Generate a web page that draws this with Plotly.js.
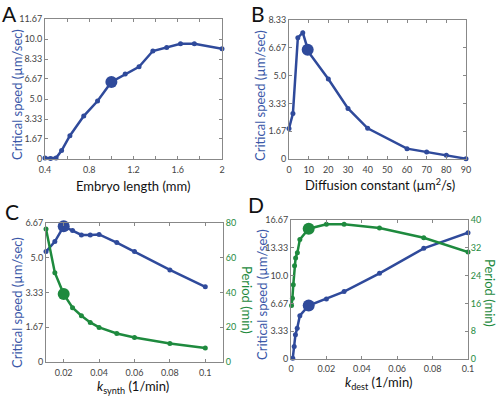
<!DOCTYPE html>
<html><head><meta charset="utf-8">
<script src="https://cdn.plot.ly/plotly-3.0.1.min.js"></script>
<style>html,body{margin:0;padding:0;background:#fff}#chart{width:500px;height:397px}</style>
</head><body><div id="chart"></div><script>
// Panel A
const aLength = [0.4, 0.45, 0.5, 0.55, 0.625, 0.75, 0.875, 1.0, 1.125, 1.25, 1.375, 1.5, 1.625, 1.75, 2.0];
const aSpeed  = [0.08, 0.05, 0.08, 0.7, 1.94, 3.58, 4.83, 6.42, 7.08, 7.69, 9.0, 9.3, 9.61, 9.61, 9.19];
const aHiX = [1.0], aHiY = [6.42];
// Panel B
const bDiff  = [0, 2, 4.5, 7, 10, 20, 30, 40, 60, 70, 80, 90];
const bSpeed = [1.83, 2.73, 7.27, 7.57, 6.4, 4.79, 3.03, 1.84, 0.62, 0.42, 0.22, 0.02];
const bHiX = [9.5], bHiY = [6.55];
// Panel C
const cK      = [0.01, 0.015, 0.02, 0.025, 0.03, 0.035, 0.04, 0.05, 0.06, 0.08, 0.1];
const cSpeed  = [5.30, 5.78, 6.51, 6.31, 6.10, 6.10, 6.12, 5.73, 5.30, 4.42, 3.61];
const cPeriod = [76.5, 51.4, 39.1, 31.2, 26.6, 22.8, 19.9, 16.4, 14.1, 10.6, 8.1];
const cHiX = [0.02], cHiSpeed = [6.51], cHiPeriod = [39.1];
// Panel D
const dKSpeed  = [0.001, 0.0018, 0.0025, 0.0035, 0.005, 0.01, 0.02, 0.03, 0.05, 0.075, 0.1];
const dSpeed   = [0.1, 1.5, 2.9, 3.7, 5.2, 6.41, 7.21, 8.09, 10.28, 13.27, 15.15];
const dKPeriod = [0.0003, 0.0008, 0.0013, 0.002, 0.0026, 0.0036, 0.005, 0.01, 0.02, 0.03, 0.05, 0.075, 0.1];
const dPeriod  = [15.4, 17.5, 21.4, 26.8, 29.1, 30.6, 34.4, 37.5, 38.8, 38.8, 37.7, 34.9, 30.8];
const dHiX = [0.01], dHiSpeed = [6.41], dHiPeriod = [37.5];

const BLUE = '#2f4a9b', GREEN = '#1e8a3e', TBLUE = '#3b58a8', FONT = 'Lato, "Open Sans", sans-serif';
const line = (x, y, c, xa, ya) => ({x, y, xaxis: xa, yaxis: ya, type: 'scatter', mode: 'lines+markers',
  line: {color: c, width: 2.5}, marker: {color: c, size: 5}, cliponaxis: false, hoverinfo: 'none'});
const big = (x, y, c, xa, ya) => ({x, y, xaxis: xa, yaxis: ya, type: 'scatter', mode: 'markers',
  marker: {color: c, size: 12}, cliponaxis: false, hoverinfo: 'none'});

const data = [
  line(aLength, aSpeed, BLUE, 'x', 'y'), big(aHiX, aHiY, BLUE, 'x', 'y'),
  line(bDiff, bSpeed, BLUE, 'x2', 'y2'), big(bHiX, bHiY, BLUE, 'x2', 'y2'),
  line(cK, cSpeed, BLUE, 'x3', 'y3'), big(cHiX, cHiSpeed, BLUE, 'x3', 'y3'),
  line(cK, cPeriod, GREEN, 'x3', 'y5'), big(cHiX, cHiPeriod, GREEN, 'x3', 'y5'),
  line(dKPeriod, dPeriod, GREEN, 'x4', 'y6'), big(dHiX, dHiPeriod, GREEN, 'x4', 'y6'),
  line(dKSpeed, dSpeed, BLUE, 'x4', 'y4'), big(dHiX, dHiSpeed, BLUE, 'x4', 'y4')
];

const axBase = {showline: true, linecolor: '#888', linewidth: 1, ticks: 'inside', ticklen: 3, tickcolor: '#888',
  showgrid: false, zeroline: false, tickfont: {family: FONT, size: 9, color: '#444'}, fixedrange: true};
const ax = (o) => Object.assign({}, axBase, o);

const W = 500, H = 397;
const dx = (l, r) => [l / W, r / W];
const dy = (t, b) => [1 - b / H, 1 - t / H];

const aTicks = [0.4, 0.8, 1.2, 1.6, 2.0];
const aTickText = ['0.4', '0.8', '1.2', '1.6', '2'];
const speedTicksA = [0, 1.67, 3.33, 5.0, 6.67, 8.33, 10.0, 11.67];
const speedTextA = ['0', '1.67', '3.33', '5.0', '6.67', '8.33', '10.0', '11.67'];
const speedTicksB = [0, 1.67, 3.33, 5.0, 6.67, 8.33];
const speedTextB = ['0', '1.67', '3.33', '5.0', '6.67', '8.33'];
const bTicks = [0, 10, 20, 30, 40, 50, 60, 70, 80, 90];
const cTicks = [0.02, 0.04, 0.06, 0.08, 0.1];
const cTickText = ['0.02', '0.04', '0.06', '0.08', '0.1'];
const speedTicksC = [0, 1.67, 3.33, 5.0, 6.67];
const speedTextC = ['0', '1.67', '3.33', '5.0', '6.67'];
const periodTicksC = [0, 20, 40, 60, 80];
const dTicks = [0, 0.02, 0.04, 0.06, 0.08, 0.1];
const dTickText = ['0', '0.02', '0.04', '0.06', '0.08', '0.1'];
const speedTicksD = [0, 3.33, 6.67, 10.0, 13.33, 16.67];
const speedTextD = ['0', '3.33', '6.67', '10.0', '13.33', '16.67'];
const periodTicksD = [0, 8, 16, 24, 32, 40];

const greenFont = {family: FONT, size: 9, color: GREEN};

const layout = {
  width: W, height: H, margin: {l: 0, r: 0, t: 0, b: 0}, showlegend: false,
  paper_bgcolor: '#fff', plot_bgcolor: '#fff', font: {family: FONT},
  xaxis:  ax({domain: dx(45, 222), range: [0.4, 2], tickvals: aTicks, ticktext: aTickText, mirror: 'ticks', anchor: 'y', ticklabelstandoff: 2,
    minor: {tick0: 0.4, dtick: 0.2, ticks: 'inside', ticklen: 3, tickcolor: '#888'}}),
  yaxis:  ax({domain: dy(19, 159), range: [0, 11.67], tickvals: speedTicksA, ticktext: speedTextA, mirror: 'ticks', anchor: 'x'}),
  xaxis2: ax({domain: dx(289, 466), range: [0, 90], tickvals: bTicks, mirror: 'ticks', anchor: 'y2', ticklabelstandoff: 2}),
  yaxis2: ax({domain: dy(20, 159), range: [0, 8.33], tickvals: speedTicksB, ticktext: speedTextB, mirror: 'ticks', anchor: 'x2'}),
  xaxis3: ax({domain: dx(46, 223), range: [0.01, 0.11], tickvals: cTicks, ticktext: cTickText, mirror: 'ticks', anchor: 'y3', ticklabelstandoff: 2}),
  yaxis3: ax({domain: dy(223, 362), range: [0, 6.67], tickvals: speedTicksC, ticktext: speedTextC, anchor: 'x3'}),
  yaxis5: ax({range: [0, 80], tickvals: periodTicksC, overlaying: 'y3', side: 'right', anchor: 'x3', tickfont: greenFont}),
  xaxis4: ax({domain: dx(291, 468), range: [0, 0.1], tickvals: dTicks, ticktext: dTickText, mirror: 'ticks', anchor: 'y4', ticklabelstandoff: 1}),
  yaxis4: ax({domain: dy(220, 359), range: [0, 16.67], tickvals: speedTicksD, ticktext: speedTextD, anchor: 'x4'}),
  yaxis6: ax({range: [0, 40], tickvals: periodTicksD, overlaying: 'y4', side: 'right', anchor: 'x4', tickfont: greenFont}),
  annotations: []
};

const ann = (text, x, y, opts) => Object.assign({text, x: x / W, y: 1 - y / H, xref: 'paper', yref: 'paper',
  showarrow: false, xanchor: 'center', yanchor: 'middle', font: {family: FONT, size: 13, color: '#111'}}, opts || {});
const blueTitle = {font: {family: FONT, size: 13, color: TBLUE}, textangle: -90};
const greenTitle = {font: {family: FONT, size: 13, color: GREEN}, textangle: 90};
const letter = {font: {family: FONT, size: 21, color: '#111'}};

layout.annotations.push(
  ann('A', 9, 14, letter), ann('B', 258, 13, letter), ann('C', 12, 211, letter), ann('D', 256, 205, letter),
  ann('Embryo length (mm)', 133, 186),
  ann('Diffusion constant (µm<sup>2</sup>/s)', 380, 184),
  ann('<i>k</i><sub>synth</sub> (1/min)', 133, 387),
  ann('<i>k</i><sub>dest</sub> (1/min)', 378, 383),
  ann('Critical speed (µm/sec)', 17, 95, blueTitle),
  ann('Critical speed (µm/sec)', 260, 96, blueTitle),
  ann('Critical speed (µm/sec)', 17, 303, blueTitle),
  ann('Critical speed (µm/sec)', 262, 295, blueTitle),
  ann('Period (min)', 247, 300, greenTitle),
  ann('Period (min)', 490, 293, greenTitle)
);

Plotly.newPlot('chart', data, layout, {staticPlot: true, displayModeBar: false});
</script></body></html>
